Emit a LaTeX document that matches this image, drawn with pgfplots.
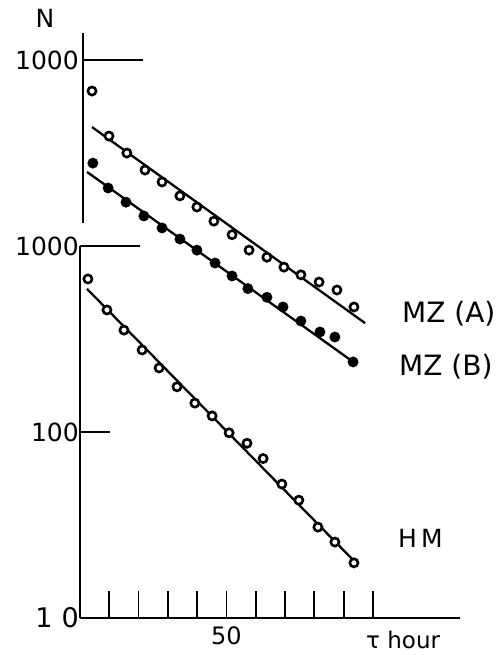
\documentclass[border=0pt]{standalone}
\usepackage{fontspec}
\setmainfont{DejaVu Sans}
\usepackage{pgfplots}
\usepackage{pgfplotstable}
\pgfplotsset{compat=1.18}

\pgfplotstableread{
h N
2.7 665
9.2 453
15.0 353
21.2 276
27.0 221
33.1 175
39.2 143
45.1 122
50.9 99
57.0 87
62.5 72
68.9 52.5
74.7 43
81.2 30.8
87.0 25.6
93.5 19.8
}\hm

\pgfplotstableread{
h N
4.1 681
9.9 390
16.0 316
22.2 256
28.0 221
34.1 186
39.9 162
45.7 136
51.9 115
57.7 95
63.8 87
69.6 77
75.4 70
81.6 64
87.7 58
93.5 47
}\mza

\pgfplotstableread{
h N
4.4 279
9.6 205
15.7 172
21.8 145
28.0 125
34.1 109
39.9 95
46.1 81
51.9 69
57.3 59
63.8 53
69.3 47
75.4 39.5
81.9 34.5
87.0 32.4
93.2 23.8
}\mzb

\begin{document}
\begin{tikzpicture}
\begin{axis}[
  scale only axis, width=380pt, height=585pt,
  xmin=0, xmax=129.7, ymode=log, ymin=10, ymax=13970,
  axis x line=bottom, axis y line=left,
  axis line style={-, line width=1.8pt},
  y axis line style={draw=none},
  xtick={10,20,...,100}, xticklabels={,,,,50,,,,,},
  tick align=inside, major tick length=27pt,
  x tick style={line width=1.8pt, black},
  ytick={10,100,1000,10000}, yticklabels={{\fontsize{27}{30}\selectfont 1\,\,0},100,1000,1000},
  y tick style={draw=none}, minor y tick num=0,
  /pgf/number format/assume math mode=true,
  xticklabel style={font=\fontsize{24}{28}\selectfont, yshift=-5pt},
  yticklabel style={font=\fontsize{25}{30}\selectfont, inner sep=0pt, xshift=-1pt},
  clip=false,
]
\coordinate (O) at (axis cs:0,10);
% axis segments and long ticks
\draw[line width=1.8pt] (axis cs:0,10) -- (axis cs:0,1000);
\draw[line width=1.8pt] (axis cs:1,1330) -- (axis cs:1,13970);
\draw[line width=1.8pt] (axis cs:0,1000) -- (axis cs:20.5,1000);
\draw[line width=1.8pt] (axis cs:0,100) -- (axis cs:10.2,100);
\draw[line width=1.8pt] (axis cs:1,10000) -- (axis cs:21.5,10000);
% fitted lines
\addplot[black, line width=2.3pt] coordinates {(2.4,588) (93.9,20)};
\addplot[black, line width=2.3pt] coordinates {(4.1,4360) (97.3,385)};
\addplot[black, line width=2.3pt] coordinates {(2.4,2500) (92.8,241)};
% data
\addplot[only marks, mark=*, mark size=4.1pt, mark options={fill=white, draw=black, line width=2.6pt}] table[x=h, y=N] {\hm};
\addplot[only marks, mark=*, mark size=4.1pt, mark options={fill=white, draw=black, line width=2.6pt}] table[x=h, y expr=10*\thisrow{N}] {\mza};
\addplot[only marks, mark=*, mark size=5.2pt, mark options={fill=black, draw=black}] table[x=h, y expr=10*\thisrow{N}] {\mzb};
\end{axis}
\node[font=\fontsize{25}{28}\selectfont] at ([shift={(-35pt,600pt)}]O) {N};
\node[anchor=west, font=\fontsize{28}{32}\selectfont, inner sep=0pt] at ([shift={(322pt,304pt)}]O) {MZ (A)};
\node[anchor=west, font=\fontsize{28}{32}\selectfont, inner sep=0pt] at ([shift={(319pt,251pt)}]O) {MZ (B)};
\node[anchor=west, font=\fontsize{25}{28}\selectfont, inner sep=0pt] at ([shift={(318pt,80pt)}]O) {H\,M};
\node[anchor=west, font=\fontsize{23}{26}\selectfont, inner sep=0pt] at ([shift={(286pt,-22pt)}]O) {τ hour};
\pgfresetboundingbox
\path[use as bounding box] ([shift={(-80pt,-37pt)}]O) rectangle ([shift={(419pt,618pt)}]O);
\end{tikzpicture}
\end{document}
